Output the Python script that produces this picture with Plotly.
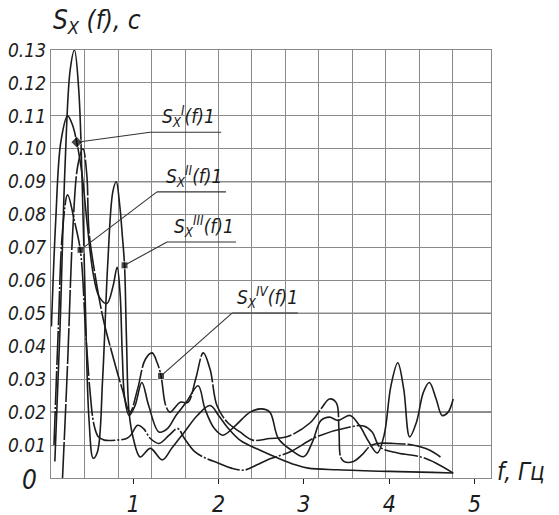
import plotly.graph_objects as go

# ---------------- data (f in Hz, S in s) ----------------
f_I = [0.04, 0.09, 0.15, 0.23, 0.29, 0.337, 0.40, 0.46, 0.53, 0.60, 0.69, 0.76, 0.81, 0.845, 0.87, 0.90, 0.95,
       1.02, 1.10, 1.18, 1.30, 1.40, 1.50, 1.62, 1.76, 1.84, 1.95, 2.05, 2.20, 2.37, 2.50, 2.60, 2.70, 2.85,
       3.00, 3.10, 3.20, 3.30, 3.40, 3.54, 3.65, 3.76, 3.86, 3.94, 4.02, 4.10, 4.17, 4.24, 4.32, 4.40, 4.47,
       4.55, 4.62, 4.69, 4.75]
S_I = [0.046, 0.078, 0.102, 0.110, 0.107, 0.102, 0.092, 0.077, 0.062, 0.055, 0.053, 0.058, 0.064, 0.056, 0.038,
       0.024, 0.019, 0.022, 0.029, 0.022, 0.014, 0.015, 0.019, 0.023, 0.028, 0.021, 0.015, 0.013, 0.016, 0.020,
       0.021, 0.020, 0.012, 0.0085, 0.0065, 0.011, 0.0175, 0.0185, 0.0175, 0.019, 0.016, 0.011, 0.0076, 0.013,
       0.028, 0.035, 0.027, 0.0125, 0.017, 0.026, 0.029, 0.024, 0.019, 0.020, 0.024]

f_II = [0.07, 0.12, 0.17, 0.23, 0.31, 0.38, 0.44, 0.49, 0.54, 0.59, 0.66, 0.80, 0.92, 0.97, 1.05, 1.12, 1.20,
        1.30, 1.42, 1.52, 1.60, 1.72, 1.85, 2.00, 2.15, 2.30, 2.45, 2.57, 2.84, 3.15, 3.54, 3.70, 3.80, 3.89,
        4.10, 4.37, 4.55, 4.75]
S_II = [0.010, 0.045, 0.075, 0.086, 0.078, 0.069, 0.045, 0.027, 0.016, 0.0125, 0.0115, 0.0115, 0.012, 0.013,
        0.016, 0.015, 0.012, 0.0105, 0.013, 0.015, 0.012, 0.008, 0.006, 0.0045, 0.003, 0.0024, 0.004, 0.0055,
        0.008, 0.0125, 0.0155, 0.0158, 0.014, 0.0094, 0.0076, 0.0064, 0.0045, 0.0015]

f_III = [0.08, 0.14, 0.20, 0.26, 0.31, 0.36, 0.40, 0.44, 0.48, 0.53, 0.58, 0.64, 0.70, 0.76, 0.80, 0.84, 0.87,
         0.897, 0.92, 0.95, 1.00, 1.08, 1.20, 1.34, 1.45, 1.60, 1.75, 1.90, 2.00, 2.10, 2.25, 2.48, 2.70, 2.90,
         3.05, 3.40, 4.00, 4.50, 4.75]
S_III = [0.005, 0.045, 0.095, 0.124, 0.130, 0.118, 0.090, 0.050, 0.018, 0.006, 0.008, 0.030, 0.065, 0.087,
         0.090, 0.083, 0.074, 0.0646, 0.042, 0.020, 0.012, 0.0064, 0.009, 0.0055, 0.009, 0.014, 0.019, 0.022,
         0.019, 0.0155, 0.0115, 0.0085, 0.006, 0.004, 0.003, 0.0025, 0.002, 0.0017, 0.0015]

f_IV = [0.17, 0.23, 0.29, 0.35, 0.41, 0.455, 0.48, 0.55, 0.65, 0.76, 0.87, 0.96, 1.05, 1.14, 1.22, 1.28, 1.325,
        1.38, 1.43, 1.55, 1.64, 1.73, 1.82, 1.90, 1.98, 2.10, 2.25, 2.40, 2.60, 2.80, 3.07, 3.20, 3.30, 3.38,
        3.41, 3.43, 3.47, 3.58, 3.68, 3.78, 3.86, 4.05, 4.27, 4.47, 4.62]
S_IV = [0.000, 0.035, 0.075, 0.095, 0.100, 0.092, 0.075, 0.062, 0.048, 0.037, 0.027, 0.020, 0.027, 0.036, 0.038,
        0.035, 0.031, 0.022, 0.020, 0.023, 0.023, 0.030, 0.038, 0.033, 0.022, 0.017, 0.014, 0.0115, 0.012,
        0.0125, 0.0167, 0.021, 0.024, 0.0228, 0.015, 0.0064, 0.005, 0.005, 0.007, 0.0098, 0.0105, 0.0105,
        0.010, 0.0085, 0.006]

series_names = ["I", "II", "III", "IV"]
series_f = [f_I, f_II, f_III, f_IV]
series_S = [S_I, S_II, S_III, S_IV]

# label anchor points on the curves (dots) and leader elbows / ends
dot_f = [0.337, 0.381, 0.897, 1.325]
dot_S = [0.102, 0.0693, 0.0646, 0.031]
elbow_f = [1.196, 1.277, 1.395, 2.157]
elbow_S = [0.105, 0.0869, 0.0717, 0.0501]
end_f = [2.03, 2.086, 2.204, 2.93]
label_text = ["S<sub>X</sub><sup>I</sup>(f)1", "S<sub>X</sub><sup>II</sup>(f)1",
              "S<sub>X</sub><sup>III</sup>(f)1", "S<sub>X</sub><sup>IV</sup>(f)1"]

y_ticks = [0.01, 0.02, 0.03, 0.04, 0.05, 0.06, 0.07, 0.08, 0.09, 0.10, 0.11, 0.12, 0.13]
y_ticktext = ["0.01", "0.02", "0.03", "0.04", "0.05", "0.06", "0.07", "0.08", "0.09", "0.10", "0.11", "0.12", "0.13"]
x_ticks = [1, 2, 3, 4, 5]

# ---------------- styling ----------------
FONT = "Liberation Sans Narrow, DejaVu Sans Condensed, Liberation Sans, DejaVu Sans, sans-serif"
INK = "#1c1c1c"
GRID = "#8a8a8a"
dashes = ["solid", "34px,2px,2px,2px", "solid", "36px,2px"]
X0, X1 = 0.035, 5.193

fig = go.Figure()
for name, fx, sy, d in zip(series_names, series_f, series_S, dashes):
    fig.add_trace(go.Scatter(x=fx, y=sy, mode="lines", name=name,
                             line=dict(color=INK, width=1.6, shape="spline", smoothing=1.0, dash=d),
                             showlegend=False, hoverinfo="skip"))

# dots where the leaders touch the curves
fig.add_trace(go.Scatter(x=dot_f, y=dot_S, mode="markers", showlegend=False, hoverinfo="skip",
                         marker=dict(color="#000000", size=[9, 7, 7, 7],
                                     symbol=["diamond", "square", "square", "square"])))

# invisible trace on the grid axis so it renders
fig.add_trace(go.Scatter(x=[X0, X1], y=[0, 0], xaxis="x2", mode="lines",
                         line=dict(width=0), showlegend=False, hoverinfo="skip"))

shapes = []
# darker horizontal lines
for yv in [0.02, 0.05, 0.09]:
    shapes.append(dict(type="line", xref="paper", yref="y", x0=0, x1=1, y0=yv, y1=yv,
                       line=dict(color="#222222", width=1.2), layer="below"))
annotations = []
for i in range(4):
    shapes.append(dict(type="line", xref="x", yref="y", x0=dot_f[i], y0=dot_S[i], x1=elbow_f[i], y1=elbow_S[i],
                       line=dict(color="#333333", width=1.1)))
    shapes.append(dict(type="line", xref="x", yref="y", x0=elbow_f[i], y0=elbow_S[i], x1=end_f[i], y1=elbow_S[i],
                       line=dict(color="#333333", width=1.1)))
    annotations.append(dict(x=(elbow_f[i] + end_f[i]) / 2 + 0.03, y=elbow_S[i], xref="x", yref="y",
                            text=label_text[i], showarrow=False, yanchor="bottom", yshift=0,
                            font=dict(family=FONT, size=19, color=INK, style="italic")))

annotations.append(dict(x=0, y=1, xref="paper", yref="paper", xanchor="left", yanchor="bottom",
                        xshift=0, yshift=10, showarrow=False,
                        text="S<sub>X</sub> (f), c",
                        font=dict(family=FONT, size=26, color=INK, style="italic")))
annotations.append(dict(x=1, y=0, xref="paper", yref="paper", xanchor="left", yanchor="middle",
                        xshift=4, yshift=6, showarrow=False, text="f, Гц",
                        font=dict(family=FONT, size=24, color=INK, style="italic")))
annotations.append(dict(x=0, y=0, xref="paper", yref="paper", xanchor="right", yanchor="middle",
                        xshift=-12, yshift=-2, showarrow=False, text="0",
                        font=dict(family=FONT, size=26, color=INK, style="italic")))

grid_vals = [X0 + k * 0.3927 for k in range(13)]

fig.update_layout(
    width=559, height=515,
    margin=dict(l=51, r=68, t=50, b=37),
    paper_bgcolor="white", plot_bgcolor="white",
    xaxis=dict(range=[X0, X1], tickvals=x_ticks, ticktext=[str(v) for v in x_ticks], automargin=False,
               showgrid=False, zeroline=False, ticks="outside", ticklen=5, tickwidth=1.3, tickcolor=INK,
               showline=True, mirror=True, linecolor=GRID, linewidth=1.3,
               tickfont=dict(family=FONT, size=23, color=INK, style="italic")),
    xaxis2=dict(range=[X0, X1], overlaying="x", anchor="y", tickvals=grid_vals, showticklabels=False,
                automargin=False, showgrid=True, gridcolor=GRID, gridwidth=1.3, zeroline=False, ticks=""),
    yaxis=dict(range=[0, 0.13], tickvals=y_ticks, ticktext=y_ticktext, showgrid=True, gridcolor=GRID,
               automargin=False, gridwidth=1.3, zeroline=False, ticks="", showline=True, mirror=True,
               linecolor=GRID, linewidth=1.3,
               tickfont=dict(family=FONT, size=19, color=INK, style="italic")),
    shapes=shapes,
    annotations=annotations,
)

# remove the default page margin so the 559x515 figure fills the window exactly
fig.write_html("out.html", config={"displayModeBar": False},
               post_script="document.body.style.margin='0';document.body.style.overflow='hidden';")
